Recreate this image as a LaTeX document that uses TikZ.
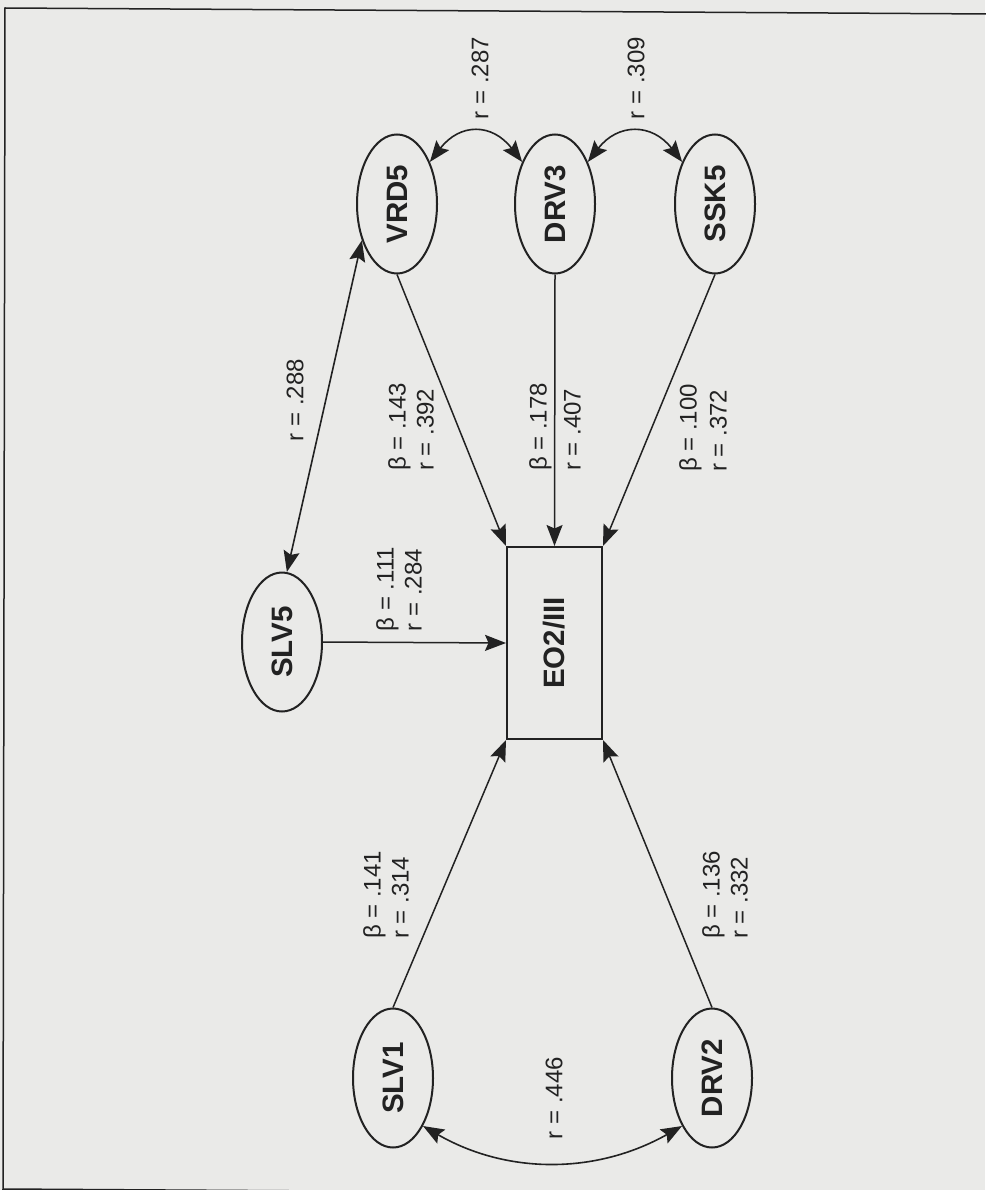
\documentclass[tikz,border=0pt]{standalone}
\usepackage{fontspec}
\setmainfont{Liberation Sans}
\usetikzlibrary{arrows.meta,shapes.geometric}
\definecolor{paper}{HTML}{EAEAE8}
\definecolor{ink}{HTML}{222222}
\begin{document}
\begin{tikzpicture}[x=1pt,y=-1pt,
  tip/.tip={Stealth[length=21pt,width=16pt,inset=3.5pt]},
  latent/.style={draw=ink, line width=2pt, ellipse, minimum width=80pt,
    minimum height=139pt, inner sep=0pt, text=ink,
    font=\fontsize{29.5}{29.5}\selectfont\bfseries},
  outcome/.style={draw=ink, line width=2pt, rectangle, minimum width=95pt,
    minimum height=192pt, inner sep=0pt, text=ink,
    font=\fontsize{29.5}{29.5}\selectfont\bfseries},
  coef/.style={rotate=90, align=left, inner sep=0pt, text=ink,
    font=\fontsize{24}{28}\selectfont},
  effect/.style={draw=ink, line width=1.5pt, -tip},
  corr/.style={draw=ink, line width=1.6pt, tip-tip}]

% paper and frame
\fill[paper] (0,0) rectangle (985,1190);
\useasboundingbox (0,0) rectangle (985,1190);
\draw[ink, line width=1.5pt] (992,14) -- (5,8) -- (3,1189) -- (992,1195);

% predictors
\node[latent] (vrd5) at (397,204) {\rotatebox{90}{VRD5}};
\node[latent] (drv3) at (555,204) {\rotatebox{90}{DRV3}};
\node[latent] (ssk5) at (715,204) {\rotatebox{90}{SSK5}};
\node[latent] (slv5) at (282,642) {\rotatebox{90}{SLV5}};
\node[latent] (slv1) at (393,1078) {\rotatebox{90}{SLV1}};
\node[latent] (drv2) at (712,1078) {\rotatebox{90}{DRV2}};

% outcome
\node[outcome] (eo) at (554.5,643) {\rotatebox{90}{EO2/III}};

% direct effects
\draw[effect] (vrd5.south) -- (eo.north west);
\draw[effect] (drv3.south) -- (eo.north);
\draw[effect] (ssk5.south) -- (eo.north east);
\draw[effect] (slv5.east) -- (eo.west);
\draw[effect] (slv1.north) -- (eo.south west);
\draw[effect] (drv2.north) -- (eo.south east);

% correlations between predictors
\draw[corr] (slv5.86) -- (vrd5.226);
\draw[corr] (vrd5.52) .. controls +(30,-39) and +(-30,-39) .. (drv3.128);
\draw[corr] (drv3.52) .. controls +(30,-39) and +(-30,-39) .. (ssk5.128);
\draw[corr] (slv1.302) .. controls +(85,49) and +(-85,48) .. (drv2.238);

% coefficients
\node[coef] (c143) at (411,427) {β = .143\\r = .392};
\node[coef] (c178) at (555,427) {β = .178\\[6pt]r = .407};
\node[coef] (c100) at (703,428) {β = .100\\[2pt]r = .372};
\node[coef] (c111) at (399,589) {β = .111\\r = .284};
\node[coef] (c141) at (386,895) {β = .141\\r = .314};
\node[coef] (c136) at (725,895) {β = .136\\r = .332};
\node[coef] (r287) at (480,78) {r = .287};
\node[coef] (r309) at (636,78) {r = .309};
\node[coef] (r288) at (295,400) {r = .288};
\node[coef] (r446) at (554,1098) {r = .446};
\end{tikzpicture}
\end{document}
